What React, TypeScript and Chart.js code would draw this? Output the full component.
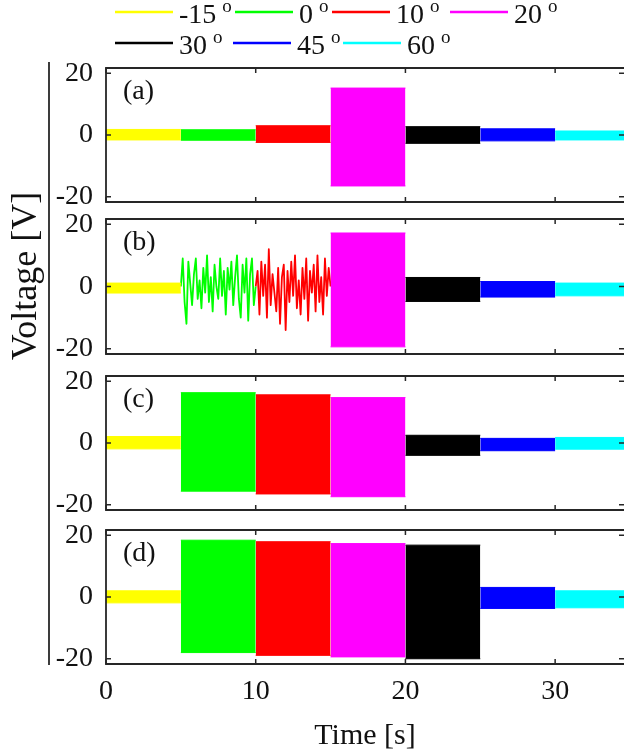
import React, { useEffect, useRef } from 'react';
import { Chart, registerables } from 'chart.js';

Chart.register(...registerables);

// ---------- data ----------
const SEGMENT_LABELS = ['-15', '0', '10', '20', '30', '45', '60'];
const SEGMENT_COLORS = ['#ffff00', '#00ff00', '#ff0000', '#ff00ff', '#000000', '#0000ff', '#00ffff'];
const SEGMENT_START = [0, 5, 10, 15, 20, 25, 30];
const SEGMENT_END = [5, 10, 15, 20, 25, 30, 34.6];
const X_TICKS = [0, 10, 20, 30];
const Y_TICKS = [-20, 0, 20];
const X_MAX = 34.6;
const Y_MIN = -21.7;
const Y_MAX = 21.7;
const PANEL_NAMES = ['(a)', '(b)', '(c)', '(d)'];

// envelope of each dense oscillation (upper / lower), null = drawn as a trace instead
const A_UPPER = [1.8, 1.7, 3.0, 15.2, 2.7, 2.0, 1.3];
const A_LOWER = [-1.6, -1.7, -2.4, -16.5, -2.7, -1.9, -1.6];
const B_UPPER = [1.1, null, null, 17.2, 2.9, 1.6, 1.1];
const B_LOWER = [-2.1, null, null, -19.4, -4.8, -3.4, -3.0];
const C_UPPER = [2.1, 16.3, 15.6, 14.7, 2.5, 1.5, 1.8];
const C_LOWER = [-1.9, -15.6, -16.5, -17.4, -4.0, -2.5, -2.0];
const D_UPPER = [2.0, 18.4, 17.9, 17.3, 16.8, 3.1, 2.0];
const D_LOWER = [-1.9, -18.0, -18.9, -19.4, -20.0, -3.7, -3.5];

// panel (b): irregular traces, sampled every 0.125 s
const B_TRACE_STEP = 0.125;
const B_GREEN = [0, 9, -5, -12, 8, 1, -6, 4, 9, -4, 2, -7, 6, -2, 10, -5, 3, -8, 7, 0, -4, 9, -3, 5, -9, 6, -1, 8, -6, 3, 10, -4, -10, 7, -2, 9, -11, 4, 9, -6, 0];
const B_RED = [0, 5, -9, 8, -3, 7, -10, 12, -6, 4, -2, -8, 6, -12, 3, 7, -14, 5, -5, 8, -3, 10, -7, 2, -9, 6, -4, 9, -11, 5, -2, 7, -8, 10, -5, 3, -9, 9, -3, 6, 0];

const PANEL_UPPER = [A_UPPER, B_UPPER, C_UPPER, D_UPPER];
const PANEL_LOWER = [A_LOWER, B_LOWER, C_LOWER, D_LOWER];
const PANEL_TRACES: Record<number, { seg: number; values: number[] }[]> = {
  1: [
    { seg: 1, values: B_GREEN },
    { seg: 2, values: B_RED },
  ],
};

// ---------- layout (page pixels) ----------
const W = 624;
const H = 755;
const PANEL_TOP = [68, 219, 376, 530];
const PANEL_BOTTOM = [202, 354, 510, 664];
const AXIS_LEFT = 106;
const X_AXIS_HEIGHT = 86;
const SERIF = "'Liberation Serif', 'Times New Roman', serif";
const INK = '#262626';
const LEGEND_ROWS_Y = [12, 43];
const LEGEND_LINE_X = [115, 235, 332, 450, 115, 233, 343];
const LEGEND_LINE_LEN = 58;

function buildDatasets(p: number) {
  const ds: any[] = [];
  const up = PANEL_UPPER[p];
  const lo = PANEL_LOWER[p];
  for (let i = 0; i < SEGMENT_LABELS.length; i++) {
    const c = SEGMENT_COLORS[i];
    if (up[i] !== null && lo[i] !== null) {
      ds.push({
        data: [
          { x: SEGMENT_START[i], y: lo[i] },
          { x: SEGMENT_END[i], y: lo[i] },
        ],
        borderColor: c,
        borderWidth: 1,
        pointRadius: 0,
        fill: false,
      });
      ds.push({
        data: [
          { x: SEGMENT_START[i], y: up[i] },
          { x: SEGMENT_END[i], y: up[i] },
        ],
        borderColor: c,
        backgroundColor: c,
        borderWidth: 1,
        pointRadius: 0,
        fill: '-1',
      });
    }
  }
  const traces = PANEL_TRACES[p] || [];
  traces.forEach((t) => {
    ds.push({
      data: t.values.map((v, i) => ({ x: SEGMENT_START[t.seg] + i * B_TRACE_STEP, y: v })),
      borderColor: SEGMENT_COLORS[t.seg],
      borderWidth: 1.8,
      pointRadius: 0,
      fill: false,
      tension: 0,
    });
  });
  return ds;
}

function framePlugin(p: number) {
  return {
    id: 'frame' + p,
    afterDraw(chart: any) {
      const ctx = chart.ctx as CanvasRenderingContext2D;
      const { left, right, top, bottom } = chart.chartArea;
      const xs = chart.scales.x;
      const ys = chart.scales.y;
      ctx.save();
      ctx.strokeStyle = INK;
      ctx.lineWidth = 1.8;
      ctx.beginPath();
      ctx.moveTo(right + 2, top);
      ctx.lineTo(left, top);
      ctx.lineTo(left, bottom);
      ctx.lineTo(right + 2, bottom);
      ctx.stroke();
      ctx.lineWidth = 1.5;
      ctx.beginPath();
      X_TICKS.forEach((v) => {
        const px = xs.getPixelForValue(v);
        ctx.moveTo(px, bottom);
        ctx.lineTo(px, bottom - 5);
        ctx.moveTo(px, top);
        ctx.lineTo(px, top + 5);
      });
      Y_TICKS.forEach((v) => {
        const py = ys.getPixelForValue(v);
        ctx.moveTo(left, py);
        ctx.lineTo(left + 5, py);
        ctx.moveTo(right, py);
        ctx.lineTo(right - 5, py);
      });
      ctx.stroke();

      // panel name
      ctx.fillStyle = '#111';
      ctx.font = `28px ${SERIF}`;
      ctx.textAlign = 'left';
      ctx.textBaseline = 'middle';
      ctx.fillText(PANEL_NAMES[p], left + 17, top + 24);

      if (p === 0) {
        // legend
        for (let i = 0; i < SEGMENT_LABELS.length; i++) {
          const row = i < 4 ? 0 : 1;
          const y = LEGEND_ROWS_Y[row];
          const x0 = LEGEND_LINE_X[i];
          ctx.strokeStyle = SEGMENT_COLORS[i];
          ctx.lineWidth = 2.5;
          ctx.beginPath();
          ctx.moveTo(x0, y);
          ctx.lineTo(x0 + LEGEND_LINE_LEN, y);
          ctx.stroke();
          ctx.fillStyle = '#111';
          ctx.font = `28px ${SERIF}`;
          ctx.textAlign = 'left';
          ctx.textBaseline = 'middle';
          const tx = x0 + LEGEND_LINE_LEN + 6;
          ctx.fillText(SEGMENT_LABELS[i], tx, y + 4);
          const tw = ctx.measureText(SEGMENT_LABELS[i]).width;
          ctx.font = `19px ${SERIF}`;
          ctx.fillText('o', tx + tw + 6, y - 5);
        }
        // y axis title + line
        ctx.strokeStyle = INK;
        ctx.lineWidth = 1.8;
        ctx.beginPath();
        ctx.moveTo(49, 62);
        ctx.lineTo(49, 665);
        ctx.stroke();
        ctx.save();
        ctx.translate(27, 276);
        ctx.rotate(-Math.PI / 2);
        ctx.fillStyle = '#111';
        ctx.font = `36px ${SERIF}`;
        ctx.textAlign = 'center';
        ctx.textBaseline = 'middle';
        ctx.fillText('Voltage [V]', 0, 0);
        ctx.restore();
      }
      if (p === 3) {
        ctx.fillStyle = '#111';
        ctx.font = `30px ${SERIF}`;
        ctx.textAlign = 'center';
        ctx.textBaseline = 'middle';
        ctx.fillText('Time [s]', 365, 736);
      }
      ctx.restore();
    },
  };
}

function Panel({ p }: { p: number }) {
  const ref = useRef<HTMLCanvasElement>(null);
  useEffect(() => {
    const canvas = ref.current!;
    const isLast = p === 3;
    const padBottom = isLast ? H - PANEL_BOTTOM[p] - X_AXIS_HEIGHT : H - PANEL_BOTTOM[p];
    const tickFont = { family: SERIF, size: 28 };
    const chart = new Chart(canvas, {
      type: 'line',
      data: { datasets: buildDatasets(p) },
      options: {
        responsive: false,
        animation: false,
        devicePixelRatio: 1,
        layout: { padding: { top: PANEL_TOP[p], bottom: padBottom, left: 0, right: 0 } },
        plugins: { legend: { display: false }, tooltip: { enabled: false } },
        elements: { line: { borderJoinStyle: 'round' } },
        scales: {
          x: {
            type: 'linear',
            min: 0,
            max: X_MAX,
            display: isLast,
            grid: { display: false, drawTicks: false },
            border: { display: false },
            afterBuildTicks: (s: any) => {
              s.ticks = X_TICKS.map((v) => ({ value: v }));
            },
            ticks: { font: tickFont, color: '#111', padding: 11, maxRotation: 0, autoSkip: false },
            afterFit: (s: any) => {
              if (isLast) s.height = X_AXIS_HEIGHT;
            },
          },
          y: {
            type: 'linear',
            min: Y_MIN,
            max: Y_MAX,
            grid: { display: false, drawTicks: false },
            border: { display: false },
            afterBuildTicks: (s: any) => {
              s.ticks = Y_TICKS.map((v) => ({ value: v }));
            },
            ticks: { font: tickFont, color: '#111', padding: 13 },
            afterFit: (s: any) => {
              s.width = AXIS_LEFT;
            },
          },
        },
      } as any,
      plugins: [framePlugin(p)],
    });
    return () => chart.destroy();
  }, [p]);
  return (
    <canvas
      ref={ref}
      width={W}
      height={H}
      style={{ position: 'absolute', left: 0, top: 0, width: W, height: H }}
    />
  );
}

export default function App() {
  return (
    <div
      style={{
        position: 'fixed',
        left: 0,
        top: 0,
        width: W,
        height: H,
        overflow: 'hidden',
        background: '#fff',
      }}
    >
      {[0, 1, 2, 3].map((p) => (
        <Panel key={p} p={p} />
      ))}
    </div>
  );
}
